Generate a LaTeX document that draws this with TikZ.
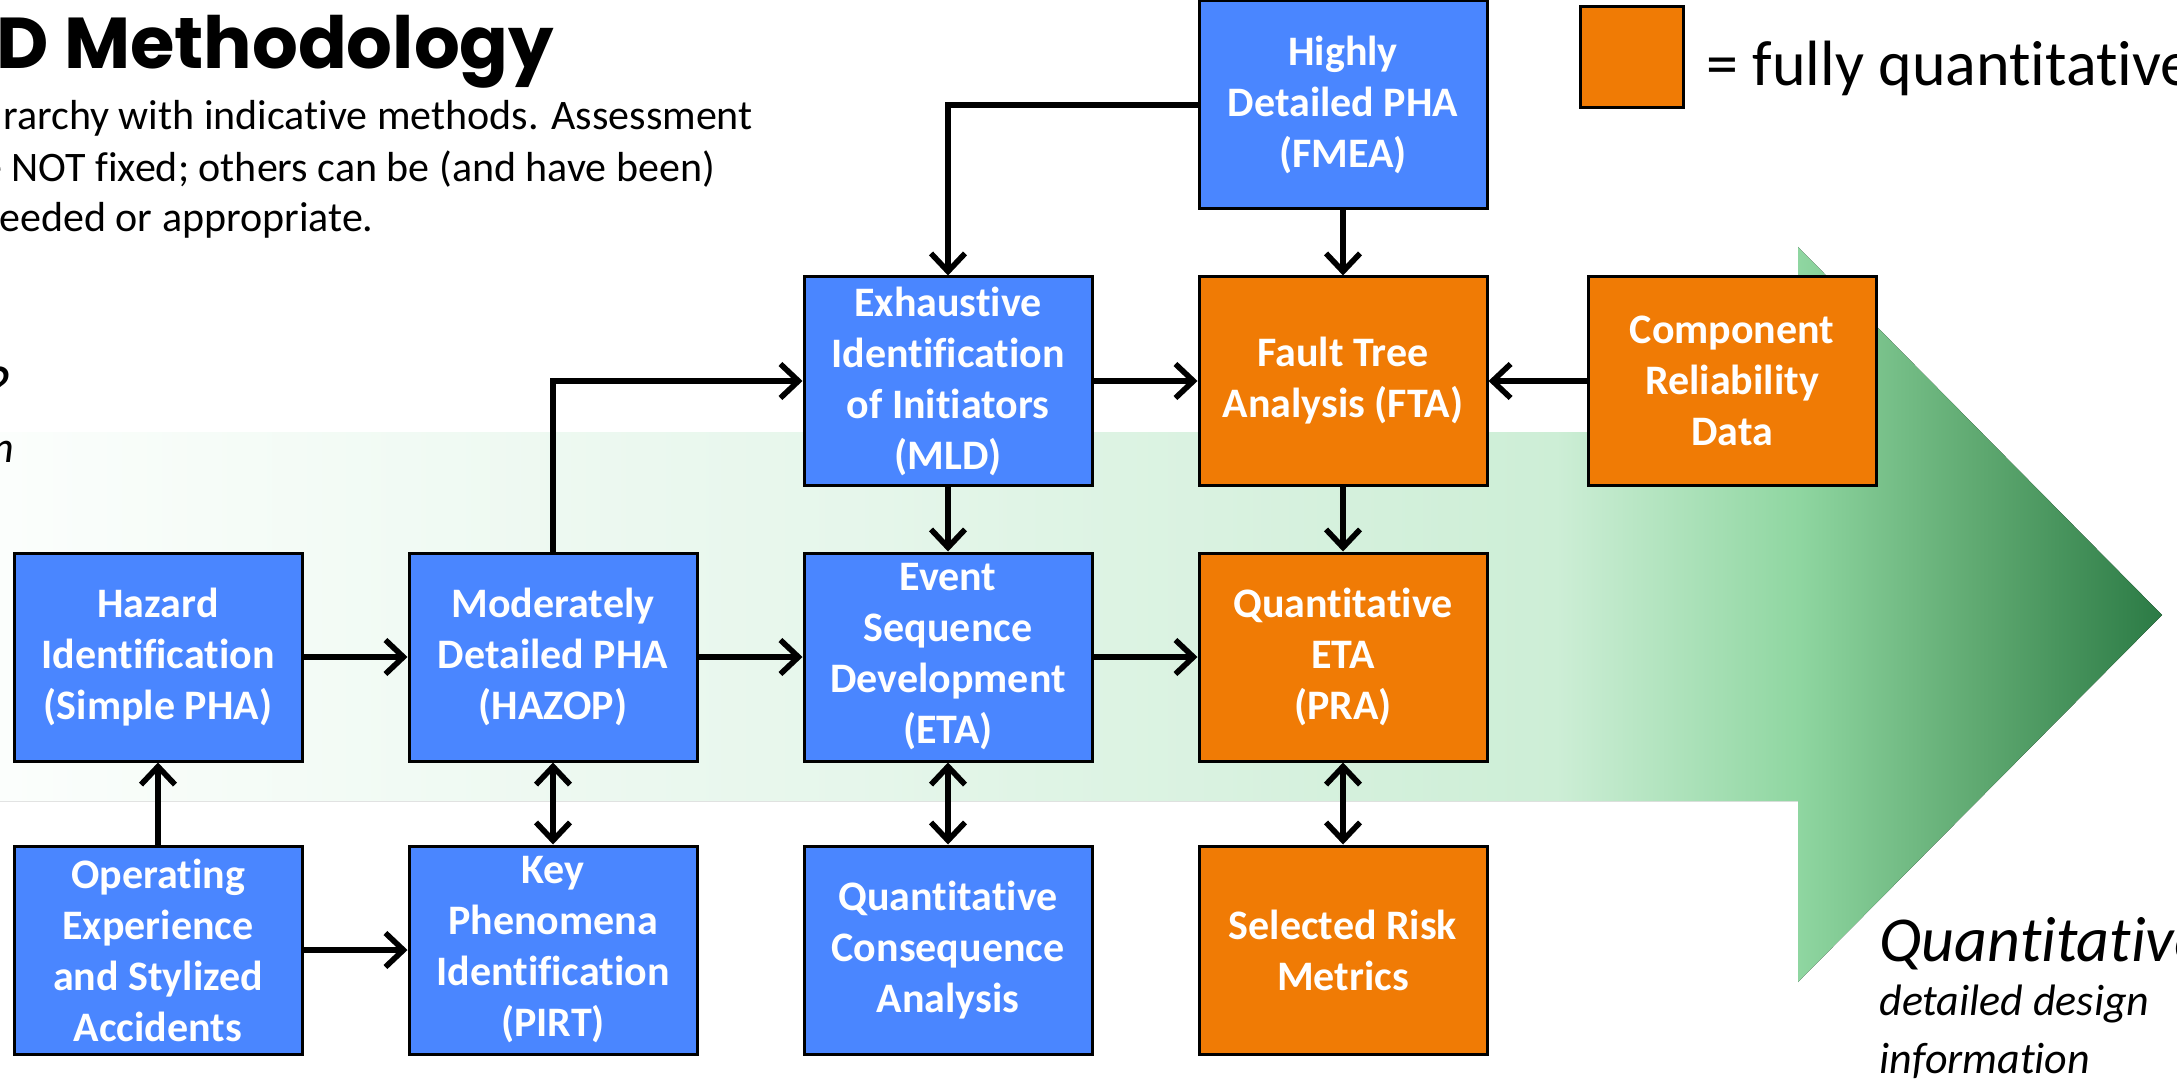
\documentclass[tikz,border=0pt]{standalone}
\usepackage{fontspec}
\setmainfont{Carlito}[Ligatures=NoCommon]
\newfontfamily\titlefont{Poppins}
\usetikzlibrary{arrows.meta}
\usetikzlibrary{positioning}
\definecolor{boxblue}{RGB}{74,134,255}
\definecolor{boxorange}{RGB}{240,123,5}
\pgfdeclarehorizontalshading{greenfade}{100bp}{rgb(0bp)=(0.985,0.996,0.988); rgb(25bp)=(0.985,0.996,0.988);
  rgb(45bp)=(0.90,0.965,0.92); rgb(61bp)=(0.804,0.933,0.839); rgb(66.6bp)=(0.56,0.84,0.63);
  rgb(70.8bp)=(0.37,0.66,0.44); rgb(75bp)=(0.17,0.48,0.27); rgb(100bp)=(0.17,0.48,0.27)}
\tikzstyle{quantbox}=[rectangle, draw=black, line width=1.5pt, fill=boxorange, text=white,
					font=\bfseries\fontsize{21pt}{25.5pt}\selectfont, align=center,
					minimum width=144pt, minimum height=104pt, inner sep=0pt]

\begin{document}
\begin{tikzpicture}[x=0.5pt, y=-0.5pt,
 node distance=32.5pt and 52pt,
 >={Straight Barb[length=9pt,width=17pt]},
 bluebox/.style={quantbox, fill=boxblue},
 notetext/.style={anchor=base west, inner sep=0pt, font=\fontsize{21pt}{25pt}\selectfont},
 sidetext/.style={anchor=base west, inner sep=0pt, font=\itshape\fontsize{22pt}{29pt}\selectfont},
 link/.style={line width=2.8pt},
 ]
 \useasboundingbox (0,0) rectangle (2177,1085);

 %Big arrow
 \fill[shading=greenfade] (0,432) -- (1798,432) -- (1798,247) -- (2162,615)
   -- (1798,982) -- (1798,801) -- (0,801) -- cycle;

 %Texts
 \node[anchor=base west, inner sep=0pt, font=\titlefont\bfseries\fontsize{36pt}{42pt}\selectfont] (title_node) at (-4,69) {D Methodology};
 \node[notetext] (note_a) at (3,130) {rarchy with indicative methods. Assessment};
 \node[notetext] (note_b) at (-19,182) {e NOT fixed; others can be (and have been)};
 \node[notetext] (note_c) at (-1,232) {eeded or appropriate.};
 \node[anchor=base east, inner sep=0pt, font=\itshape\fontsize{32pt}{36pt}\selectfont] (qual_node) at (12,410) {?};
 \node[anchor=base east, inner sep=0pt, font=\itshape\fontsize{22pt}{29pt}\selectfont] (info_left) at (15,462) {n};
 \node[anchor=base west, inner sep=0pt, font=\itshape\fontsize{32pt}{36pt}\selectfont] (quant_node) at (1879,961) {Quantitative};
 \node[sidetext] (detail_node) at (1879,1015) {detailed design};
 \node[sidetext] (info_node) at (1879,1073) {information};

 %Legend
 \node[quantbox, minimum width=51.5pt, minimum height=50.5pt] (legend_node) at (1632,57) {};
 \node[anchor=base west, inner sep=0pt, font=\fontsize{32pt}{36pt}\selectfont] (legend_text) at (1706,86) {= fully quantitative};

 %Nodes
 \node[bluebox]  (hazard_node)  at (158,657) {Hazard\\Identification\\(Simple PHA)};
 \node[bluebox]  (hazop_node)   [right=of hazard_node] {Moderately\\Detailed PHA\\(HAZOP)};
 \node[bluebox]  (eta_node)     [right=of hazop_node] {Event\\Sequence\\Development\\(ETA)};
 \node[quantbox] (pra_node)     [right=of eta_node] {Quantitative\\ETA\\(PRA)};
 \node[bluebox]  (mld_node)     [above=of eta_node] {Exhaustive\\Identification\\of Initiators\\(MLD)};
 \node[quantbox] (fta_node)     [above=of pra_node] {Fault Tree\\Analysis (FTA)};
 \node[bluebox]  (fmea_node)    [above=of fta_node] {Highly\\Detailed PHA\\(FMEA)};
 \node[quantbox] (crd_node)     [right=of fta_node, xshift=-3pt] {Component\\Reliability\\Data};
 \node[bluebox]  (opexp_node)   [below=41pt of hazard_node] {Operating\\Experience\\and Stylized\\Accidents};
 \node[bluebox]  (pirt_node)    [below=41pt of hazop_node] {Key\\Phenomena\\Identification\\(PIRT)};
 \node[bluebox]  (qca_node)     [below=41pt of eta_node] {Quantitative\\Consequence\\Analysis};
 \node[quantbox] (metrics_node) [below=41pt of pra_node] {Selected Risk\\Metrics};

 %Lines
 \draw[link, ->] (fmea_node.south) -- (fta_node.north);
 \draw[link, ->] (fmea_node.west) -| (mld_node.north);
 \draw[link, ->] (mld_node.east) -- (fta_node.west);
 \draw[link, ->] (crd_node.west) -- (fta_node.east);
 \draw[link, ->] (mld_node.south) -- (eta_node.north);
 \draw[link, ->] (fta_node.south) -- (pra_node.north);
 \draw[link, ->] (hazard_node.east) -- (hazop_node.west);
 \draw[link, ->] (hazop_node.east) -- (eta_node.west);
 \draw[link, ->] (eta_node.east) -- (pra_node.west);
 \draw[link, ->] (hazop_node.north) |- (mld_node.west);
 \draw[link, ->] (opexp_node.north) -- (hazard_node.south);
 \draw[link, ->] (opexp_node.east) -- (pirt_node.west);
 \draw[link, <->] (hazop_node.south) -- (pirt_node.north);
 \draw[link, <->] (eta_node.south) -- (qca_node.north);
 \draw[link, <->] (pra_node.south) -- (metrics_node.north);
\end{tikzpicture}
\end{document}
